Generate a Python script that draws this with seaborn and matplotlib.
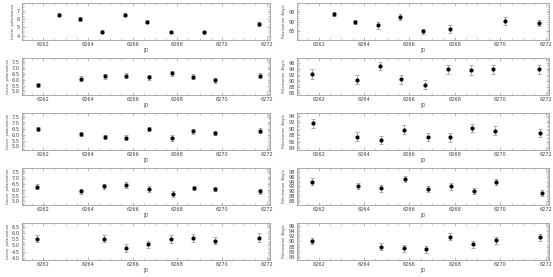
import numpy as np
import seaborn as sns
import matplotlib
matplotlib.use("Agg")
import matplotlib.pyplot as plt
from matplotlib.ticker import AutoMinorLocator, FormatStrFormatter

# Werte (JD - 2450000)
jd_1l = [6262.7, 6263.65, 6264.65, 6265.65, 6266.65, 6267.7, 6269.2, 6271.65]
pol_1 = [6.5, 6.0, 4.5, 6.5, 5.7, 4.45, 4.4, 5.45]
pol_1_err = [0.2, 0.2, 0.2, 0.2, 0.2, 0.15, 0.15, 0.25]
jd_1r = [6262.7, 6263.6, 6264.6, 6265.6, 6266.6, 6267.8, 6270.2, 6271.7]
ang_1 = [94.2, 90.0, 88.3, 92.5, 85.0, 86.2, 90.5, 89.5]
ang_1_err = [1.3, 1.3, 1.8, 1.5, 1.5, 2.0, 2.0, 1.8]

jd_2l = [6261.75, 6263.7, 6264.75, 6265.7, 6266.75, 6267.75, 6268.7, 6269.7, 6271.7]
pol_2 = [5.55, 6.1, 6.3, 6.35, 6.2, 6.55, 6.25, 5.95, 6.35]
pol_2_err = [0.2, 0.2, 0.2, 0.2, 0.2, 0.2, 0.2, 0.2, 0.2]
jd_2r = [6261.7, 6263.7, 6264.7, 6265.65, 6266.7, 6267.7, 6268.7, 6269.7, 6271.7]
ang_2 = [92.2, 90.5, 94.8, 90.6, 88.8, 93.8, 93.6, 93.8, 93.8]
ang_2_err = [1.6, 1.5, 1.3, 1.5, 1.5, 1.4, 1.5, 1.5, 1.4]

jd_3l = [6261.75, 6263.7, 6264.75, 6265.7, 6266.75, 6267.75, 6268.7, 6269.7, 6271.7]
pol_3 = [6.5, 6.05, 5.8, 5.75, 6.5, 5.75, 6.3, 6.15, 6.35]
pol_3_err = [0.2, 0.2, 0.2, 0.2, 0.2, 0.25, 0.2, 0.2, 0.2]
jd_3r = [6261.75, 6263.7, 6264.75, 6265.75, 6266.8, 6267.8, 6268.75, 6269.75, 6271.75]
ang_3 = [91.6, 87.6, 86.6, 89.7, 87.4, 87.4, 90.2, 89.4, 88.7]
ang_3_err = [1.4, 1.3, 1.3, 1.4, 1.3, 1.4, 1.3, 1.3, 1.2]

jd_4l = [6261.7, 6263.7, 6264.7, 6265.7, 6266.75, 6267.8, 6268.75, 6269.7, 6271.7]
pol_4 = [6.25, 5.85, 6.3, 6.4, 6.05, 5.6, 6.15, 6.05, 5.85]
pol_4_err = [0.2, 0.2, 0.2, 0.25, 0.25, 0.25, 0.2, 0.2, 0.2]
jd_4r = [6261.7, 6263.75, 6264.75, 6265.8, 6266.8, 6267.85, 6268.85, 6269.8, 6271.85]
ang_4 = [94.0, 92.2, 91.2, 95.2, 91.1, 92.1, 90.0, 93.8, 89.3]
ang_4_err = [1.3, 1.3, 1.3, 1.2, 1.3, 1.4, 1.2, 1.2, 1.2]

jd_5l = [6261.7, 6264.7, 6265.7, 6266.7, 6267.7, 6268.7, 6269.7, 6271.65]
pol_5 = [5.55, 5.55, 4.8, 5.1, 5.55, 5.62, 5.4, 5.65]
pol_5_err = [0.3, 0.3, 0.3, 0.3, 0.35, 0.35, 0.3, 0.35]
jd_5r = [6261.7, 6264.75, 6265.75, 6266.75, 6267.8, 6268.8, 6269.8, 6271.75]
ang_5 = [90.2, 88.0, 87.4, 87.0, 91.8, 88.9, 90.4, 91.6]
ang_5_err = [1.3, 1.3, 1.3, 1.3, 1.3, 1.2, 1.2, 1.3]

jd_ticks = [6262, 6264, 6266, 6268, 6270, 6272]

# (x, y, yerr, ylim, yticks, format) pro Zeile links / rechts
left_panels = [
    (jd_1l, pol_1, pol_1_err, (3.5, 7.9), [4, 5, 6, 7], "%d"),
    (jd_2l, pol_2, pol_2_err, (4.7, 7.85), np.arange(5.0, 7.6, 0.5), "%.1f"),
    (jd_3l, pol_3, pol_3_err, (4.7, 7.85), np.arange(5.0, 7.6, 0.5), "%.1f"),
    (jd_4l, pol_4, pol_4_err, (4.7, 7.85), np.arange(5.0, 7.6, 0.5), "%.1f"),
    (jd_5l, pol_5, pol_5_err, (3.8, 6.85), np.arange(4.0, 6.6, 0.5), "%.1f"),
]
right_panels = [
    (jd_1r, ang_1, ang_1_err, (80.5, 100.0), [85, 90, 95], "%d"),
    (jd_2r, ang_2, ang_2_err, (85.5, 97.5), np.arange(86, 97, 2), "%d"),
    (jd_3r, ang_3, ang_3_err, (83.5, 94.8), np.arange(84, 95, 2), "%d"),
    (jd_4r, ang_4, ang_4_err, (84.5, 99.5), np.arange(86, 99, 2), "%d"),
    (jd_5r, ang_5, ang_5_err, (83.0, 97.0), np.arange(84, 97, 2), "%d"),
]

sns.set_style("ticks")
plt.rcParams['font.family'] = ['DejaVu Sans']

W, H = 553, 277
fig = plt.figure(figsize=(W / 100, H / 100), dpi=100)
fig.patch.set_facecolor("white")

frame = "0.62"
fs = 3.6


def draw(ax, x, y, yerr, ylim, yticks, fmt, ylabel):
    ax.errorbar(x, y, yerr=yerr, fmt="none", ecolor="0.6", elinewidth=0.55,
                capsize=1.5, capthick=0.55, zorder=2)
    sns.scatterplot(x=x, y=y, ax=ax, color="black", s=9, marker="o",
                    linewidth=0, zorder=3)
    ax.set_xlim(6261.05, 6272.15)
    ax.set_ylim(*ylim)
    ax.set_xticks(jd_ticks)
    ax.set_yticks(yticks)
    ax.yaxis.set_major_formatter(FormatStrFormatter(fmt))
    ax.xaxis.set_minor_locator(AutoMinorLocator(4))
    ax.yaxis.set_minor_locator(AutoMinorLocator(5))
    ax.tick_params(which="both", direction="in", top=True, right=True,
                   color=frame, labelsize=fs, labelcolor="0.25", pad=1.5)
    ax.tick_params(which="major", length=2.2, width=0.5)
    ax.tick_params(which="minor", length=1.1, width=0.4)
    for sp in ax.spines.values():
        sp.set_color(frame)
        sp.set_linewidth(0.6)
    ax.set_xlabel("JD", fontsize=fs, color="0.3", labelpad=1)
    ax.set_ylabel(ylabel, fontsize=2.6, color="0.3", labelpad=1.5)


top0, period, h = 3, 55, 37
for r in range(5):
    top = top0 + r * period
    bottom = 1 - (top + h) / H
    axl = fig.add_axes([22 / W, bottom, 248 / W, h / H])
    draw(axl, *left_panels[r], "Linear  polarization")
    axr = fig.add_axes([297 / W, bottom, 252 / W, h / H])
    draw(axr, *right_panels[r], "Polarization  Angle")

fig.savefig("out.png", dpi=100, facecolor="white")
